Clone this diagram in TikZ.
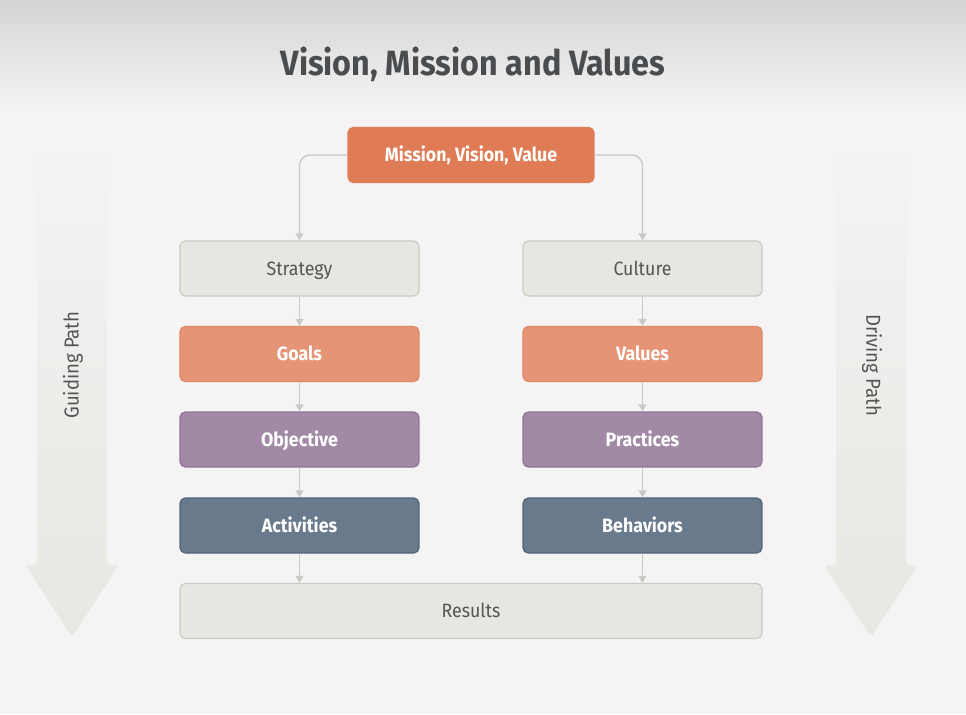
\documentclass[tikz,border=0pt]{standalone}
\usepackage{fontspec}
\setmainfont{Fira Sans}
\newfontfamily\condfont[FakeStretch=0.92]{Fira Sans}
\usetikzlibrary{arrows.meta, positioning}
\definecolor{pagebg}{HTML}{F5F3F4}
\definecolor{topgray}{HTML}{D5D5D5}
\definecolor{titlegray}{HTML}{4A4D4F}
\definecolor{textgray}{HTML}{555555}
\definecolor{boxgray}{HTML}{E7E6E0}
\definecolor{boxgrayline}{HTML}{CBCAC3}
\definecolor{deeporange}{HTML}{E07C55}
\definecolor{softorange}{HTML}{E59576}
\definecolor{softorangeline}{HTML}{DE8763}
\definecolor{mauve}{HTML}{A28AA7}
\definecolor{mauveline}{HTML}{8F7596}
\definecolor{slate}{HTML}{687A8C}
\definecolor{slateline}{HTML}{52657A}
\definecolor{linkgray}{HTML}{C9C9C5}
\definecolor{pathfill}{HTML}{E8E7E1}

\begin{document}
\begin{tikzpicture}[x=0.02cm, y=-0.02cm,
    >={Triangle[length=4pt, width=4.5pt]},
    box/.style={draw, rounded corners=3pt, minimum width=4.78cm,
        minimum height=1.1cm, line width=0.7pt, text height=1.8ex, text depth=0.3ex,
        font=\condfont\fontsize{11}{13}\selectfont},
    lbox/.style={box, fill=boxgray, draw=boxgrayline, text=textgray},
    obox/.style={box, fill=softorange, draw=softorangeline, text=white,
        font=\condfont\bfseries\fontsize{11}{13}\selectfont},
    pbox/.style={box, fill=mauve, draw=mauveline, text=white,
        font=\condfont\bfseries\fontsize{11}{13}\selectfont},
    sbox/.style={box, fill=slate, draw=slateline, text=white,
        font=\condfont\bfseries\fontsize{11}{13}\selectfont},
    link/.style={draw=linkgray, line width=0.8pt, ->},
    bigpath/.style={top color=pagebg, bottom color=pathfill, rounded corners=2pt},
    pathlabel/.style={text=textgray, font=\condfont\fontsize{11.5}{13}\selectfont}
]
    \fill[pagebg] (0,0) rectangle (966,714);
    \shade[top color=topgray, bottom color=pagebg] (0,0) rectangle (966,110);

    \node[text=titlegray, font=\condfont\bfseries\fontsize{20}{24}\selectfont] (title) at (473,64) {Vision, Mission and Values};

    \shade[bigpath] (37,135) -- (107,135) -- (107,565) -- (119,565) -- (72,637) -- (25,565) -- (37,565) -- cycle;
    \shade[bigpath] (836,135) -- (906,135) -- (906,565) -- (918,565) -- (871,637) -- (824,565) -- (836,565) -- cycle;
    \node[pathlabel, rotate=90] (guide) at (73,365) {Guiding Path};
    \node[pathlabel, rotate=-90] (drive) at (872,365) {Driving Path};

    \node[box, fill=deeporange, draw=deeporange, text=white, minimum width=4.92cm,
        font=\condfont\bfseries\fontsize{11}{13}\selectfont] (mvv) at (471,155) {Mission, Vision, Value};

    \node[lbox] (strategy) at (299.5,268.5) {Strategy};
    \node[obox] (goals) at (299.5,354) {Goals};
    \node[pbox] (objective) at (299.5,439.5) {Objective};
    \node[sbox] (activities) at (299.5,525.5) {Activities};

    \node[lbox] (culture) at (642.5,268.5) {Culture};
    \node[obox] (values) at (642.5,354) {Values};
    \node[pbox] (practices) at (642.5,439.5) {Practices};
    \node[sbox] (behaviors) at (642.5,525.5) {Behaviors};

    \node[lbox, minimum width=11.64cm] (results) at (471,611) {Results};

    \draw[link, rounded corners=6pt] (mvv.west) -| (strategy.north);
    \draw[link, rounded corners=6pt] (mvv.east) -| (culture.north);
    \draw[link] (strategy) -- (goals);
    \draw[link] (goals) -- (objective);
    \draw[link] (objective) -- (activities);
    \draw[link] (culture) -- (values);
    \draw[link] (values) -- (practices);
    \draw[link] (practices) -- (behaviors);
    \draw[link] (activities.south) -- (activities.south |- results.north);
    \draw[link] (behaviors.south) -- (behaviors.south |- results.north);
\end{tikzpicture}
\end{document}
